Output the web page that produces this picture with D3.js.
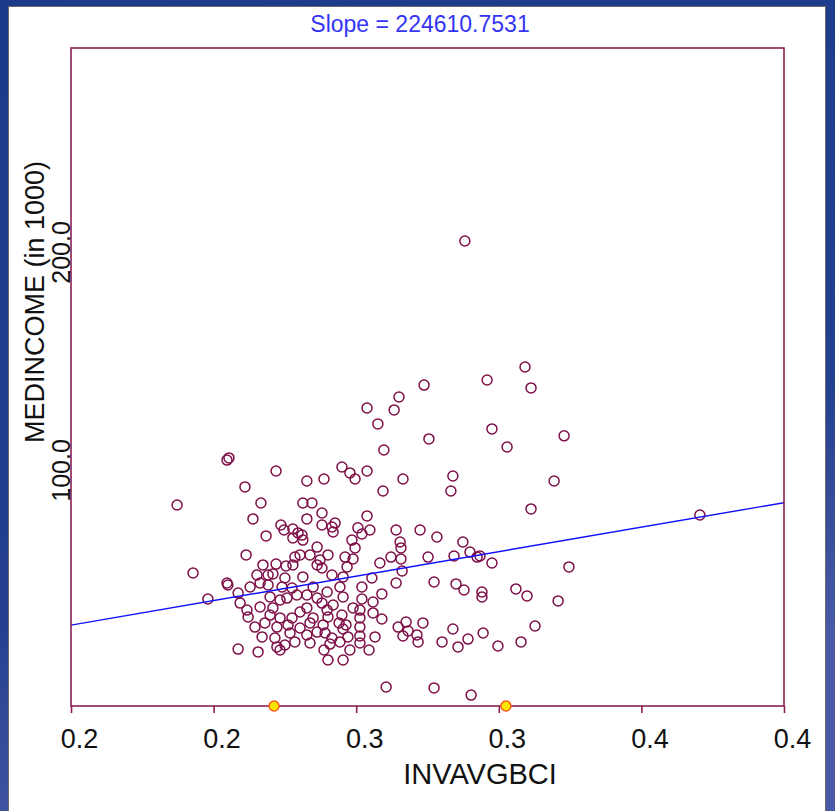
<!DOCTYPE html>
<html>
<head>
<meta charset="utf-8">
<script src="https://cdn.jsdelivr.net/npm/d3@7"></script>
<style>
  body { margin: 0; background: #1c3a8a; }
  text { font-family: "Liberation Sans", Arial, sans-serif; }
</style>
</head>
<body>
<div id="chart"></div>
<script>
// chart values
const invAvgBci = [
  0.3131, 0.2988, 0.2900, 0.2788, 0.2883, 0.2826, 0.3005, 0.3209, 0.3226, 0.3279,
  0.2847, 0.3342, 0.3363, 0.3479, 0.3444, 0.3363, 0.3955, 0.3226, 0.3496, 0.3184,
  0.3191, 0.3191, 0.3310, 0.3349, 0.3458, 0.3195, 0.3377, 0.3247, 0.3328, 0.2855,
  0.3023, 0.3153, 0.2700, 0.2728, 0.2746, 0.2788, 0.2637, 0.2914, 0.3089, 0.3082,
  0.2844, 0.2788, 0.2630, 0.2676, 0.2665, 0.2669, 0.2756, 0.2798, 0.2770, 0.2890,
  0.2974, 0.3033, 0.3124, 0.2735, 0.2746, 0.2904, 0.2907, 0.2651, 0.2711, 0.2739,
  0.2872, 0.2907, 0.3149, 0.3174, 0.3002, 0.3093, 0.2833, 0.2718, 0.2623, 0.2630,
  0.2911, 0.2665, 0.2704, 0.2805, 0.2890, 0.3023, 0.3100, 0.3128, 0.2770, 0.2693,
  0.2648, 0.2840, 0.2704, 0.2770, 0.2809, 0.2630, 0.2669, 0.2739, 0.2651, 0.2700,
  0.2763, 0.2763, 0.2809, 0.2840, 0.2690, 0.2714, 0.2763, 0.2634, 0.2641, 0.2704,
  0.2897, 0.2925, 0.2932, 0.2984, 0.2963, 0.2967, 0.2914, 0.2816, 0.2763, 0.2721,
  0.2665, 0.2658, 0.2693, 0.2763, 0.2795, 0.2728, 0.2637, 0.3089, 0.3051, 0.3107,
  0.3142, 0.2651, 0.2704, 0.2297, 0.2304, 0.2469, 0.2577, 0.2360, 0.2122, 0.2416,
  0.2563, 0.2595, 0.2577, 0.2388, 0.2486, 0.2497, 0.2528, 0.2546, 0.2560, 0.2630,
  0.2434, 0.2528, 0.2563, 0.2364, 0.2613, 0.2535, 0.2553, 0.2588, 0.2528, 0.2423,
  0.2469, 0.2504, 0.2613, 0.2178, 0.2297, 0.2300, 0.2402, 0.2441, 0.2458, 0.2500,
  0.2563, 0.2378, 0.2413, 0.2441, 0.2490, 0.2525, 0.2599, 0.2336, 0.2230, 0.2343,
  0.2448, 0.2483, 0.2507, 0.2542, 0.2577, 0.2613, 0.2367, 0.2413, 0.2458, 0.2553,
  0.2577, 0.2648, 0.2371, 0.2448, 0.2483, 0.2525, 0.2599, 0.2395, 0.2430, 0.2472,
  0.2511, 0.2553, 0.2588, 0.2420, 0.2465, 0.2518, 0.2535, 0.2577, 0.2613, 0.2472,
  0.2483, 0.2500, 0.2588, 0.2336, 0.2406
];
const medIncome = [
  214.2, 148.1, 142.6, 137.6, 136.7, 130.3, 123.4, 150.4, 128.0, 119.7,
  118.3, 156.4, 146.8, 124.8, 104.1, 91.3, 88.5, 66.5, 64.7, 69.7,
  53.2, 50.9, 54.6, 51.4, 49.1, 34.4, 37.6, 28.4, 30.3, 9.6,
  9.2, 5.9, 110.5, 107.8, 105.0, 108.7, 105.0, 105.0, 106.4, 99.5,
  99.5, 88.1, 89.4, 84.8, 83.0, 80.7, 82.6, 81.6, 79.8, 81.6,
  81.6, 78.4, 76.1, 77.0, 73.4, 76.1, 73.4, 70.2, 69.2, 68.3,
  69.2, 68.3, 71.5, 69.2, 69.2, 69.7, 66.5, 64.7, 67.9, 64.2,
  62.8, 61.0, 60.1, 59.6, 57.3, 57.8, 56.9, 54.1, 55.5, 55.5,
  53.2, 52.3, 50.9, 50.0, 48.6, 48.1, 47.2, 45.9, 41.7, 42.6,
  44.9, 41.3, 43.6, 40.8, 39.0, 38.1, 37.1, 38.1, 34.4, 36.2,
  37.1, 39.4, 35.3, 39.0, 33.5, 30.3, 33.0, 32.6, 33.0, 32.6,
  32.1, 29.3, 30.3, 29.8, 26.6, 26.6, 26.6, 36.2, 30.3, 28.0,
  31.6, 22.0, 22.0, 113.7, 114.7, 108.7, 104.1, 101.4, 93.1, 94.0,
  94.0, 94.0, 86.7, 86.7, 83.9, 81.6, 82.1, 80.3, 79.3, 83.9,
  78.9, 78.0, 77.0, 70.2, 73.8, 69.2, 70.2, 70.2, 65.6, 65.6,
  66.0, 65.1, 65.6, 61.9, 57.3, 56.4, 61.0, 61.0, 61.5, 59.6,
  60.1, 55.5, 57.3, 56.4, 55.5, 55.0, 55.5, 52.7, 50.0, 48.1,
  50.9, 49.5, 50.4, 51.8, 51.8, 50.4, 44.9, 46.3, 45.9, 44.0,
  45.9, 44.9, 41.7, 42.6, 41.3, 41.3, 41.3, 37.1, 39.0, 37.1,
  38.1, 36.7, 39.0, 32.6, 32.1, 34.4, 30.3, 33.5, 34.8, 28.0,
  26.6, 28.9, 29.8, 27.0, 25.7
];

const xTickValues = [0.175, 0.225, 0.275, 0.325, 0.375, 0.425];
const xTickLabels = ["0.2", "0.2", "0.3", "0.3", "0.4", "0.4"];
const yTickValues = [100, 200];
const yTickLabels = ["100.0", "200.0"];
const xMarkers = [0.2462, 0.3275];   // yellow markers on the x axis

const slope = 224610.7531;           // per unit INVAVGBCI, in dollars
const intercept = -1.3;              // in 1000, estimated from the drawn line

// layout
const W = 835, H = 811;
const plot = {left: 71, right: 784, top: 48, bottom: 706};

const svg = d3.select("#chart").append("svg")
  .attr("width", W)
  .attr("height", H);

// dark blue frame with a lighter lower-left corner
const defs = svg.append("defs");
const grad = defs.append("linearGradient").attr("id", "frame")
  .attr("x1", 0).attr("y1", 0).attr("x2", 0.3).attr("y2", 1);
grad.append("stop").attr("offset", "0%").attr("stop-color", "#1b3a8b");
grad.append("stop").attr("offset", "70%").attr("stop-color", "#22408f");
grad.append("stop").attr("offset", "100%").attr("stop-color", "#4a5aa6");
svg.append("rect").attr("width", W).attr("height", H).attr("fill", "url(#frame)");

svg.append("rect")
  .attr("x", 8.5).attr("y", 6.5)
  .attr("width", 817).attr("height", H)
  .attr("fill", "#fff")
  .attr("stroke", "#6b6b6b").attr("stroke-width", 1);

// scales
const x = d3.scaleLinear().domain([0.175, 0.425]).range([plot.left, plot.right]);
const y = d3.scaleLinear().domain([0.9, 302.7]).range([plot.bottom, plot.top]);

defs.append("clipPath").attr("id", "plotclip")
  .append("rect")
  .attr("x", plot.left).attr("y", plot.top)
  .attr("width", plot.right - plot.left).attr("height", plot.bottom - plot.top);

const maroon = "#8b1f52";

// title
svg.append("text")
  .attr("x", 420).attr("y", 32)
  .attr("text-anchor", "middle")
  .attr("font-size", "23px")
  .attr("fill", "#3434f5")
  .text("Slope = " + slope.toFixed(4));

// points
const points = invAvgBci.map((v, i) => ({x: v, y: medIncome[i]}));
svg.append("g")
  .attr("clip-path", "url(#plotclip)")
  .selectAll("circle")
  .data(points)
  .join("circle")
    .attr("cx", d => x(d.x))
    .attr("cy", d => y(d.y))
    .attr("r", 5)
    .attr("fill", "none")
    .attr("stroke", "#7e1048")
    .attr("stroke-width", 1.5);

// regression line
const xd = x.domain();
svg.append("path")
  .attr("clip-path", "url(#plotclip)")
  .datum(xd.map(v => ({x: v, y: intercept + slope / 1000 * v})))
  .attr("fill", "none")
  .attr("stroke", "#1010ff")
  .attr("stroke-width", 1.4)
  .attr("d", d3.line().x(d => x(d.x)).y(d => y(d.y)));

// plot frame
svg.append("rect")
  .attr("x", plot.left).attr("y", plot.top)
  .attr("width", plot.right - plot.left).attr("height", plot.bottom - plot.top)
  .attr("fill", "none")
  .attr("stroke", maroon)
  .attr("stroke-width", 1.6);

// x axis
const xAxis = svg.append("g")
  .attr("transform", `translate(0,${plot.bottom})`)
  .call(d3.axisBottom(x).tickValues(xTickValues).tickSize(7)
    .tickFormat((d, i) => xTickLabels[i]));
xAxis.select(".domain").remove();
xAxis.selectAll(".tick line").attr("stroke", maroon).attr("stroke-width", 1.6);
xAxis.selectAll(".tick text")
  .attr("dx", 8).attr("dy", 0).attr("y", 42)
  .attr("fill", "#111")
  .style("font-family", "'Liberation Sans', Arial, sans-serif")
  .style("font-size", "27px");

// markers on the x axis
svg.append("g").selectAll("circle")
  .data(xMarkers)
  .join("circle")
    .attr("cx", d => x(d))
    .attr("cy", y(y.domain()[0]))
    .attr("r", 5)
    .attr("fill", "#ffe600")
    .attr("stroke", "#ff5a1a")
    .attr("stroke-width", 1.5);

// y axis
const yAxis = svg.append("g")
  .attr("transform", `translate(${plot.left},0)`)
  .call(d3.axisLeft(y).tickValues(yTickValues).tickSize(3)
    .tickFormat((d, i) => yTickLabels[i]));
yAxis.select(".domain").remove();
yAxis.selectAll(".tick line").attr("stroke", maroon).attr("stroke-width", 2);
yAxis.selectAll(".tick text")
  .attr("x", 0).attr("dy", 0)
  .attr("text-anchor", "middle")
  .attr("transform", "translate(-1,-20) rotate(-90)")
  .attr("fill", "#111")
  .style("font-family", "'Liberation Sans', Arial, sans-serif")
  .style("font-size", "25px");

// axis titles
svg.append("text")
  .attr("x", 480).attr("y", 784)
  .attr("text-anchor", "middle")
  .attr("font-size", "29px")
  .attr("fill", "#111")
  .text("INVAVGBCI");

svg.append("text")
  .attr("transform", "translate(44,302) rotate(-90)")
  .attr("text-anchor", "middle")
  .attr("font-size", "27px")
  .attr("fill", "#111")
  .text("MEDINCOME (in 1000)");
</script>
</body>
</html>
